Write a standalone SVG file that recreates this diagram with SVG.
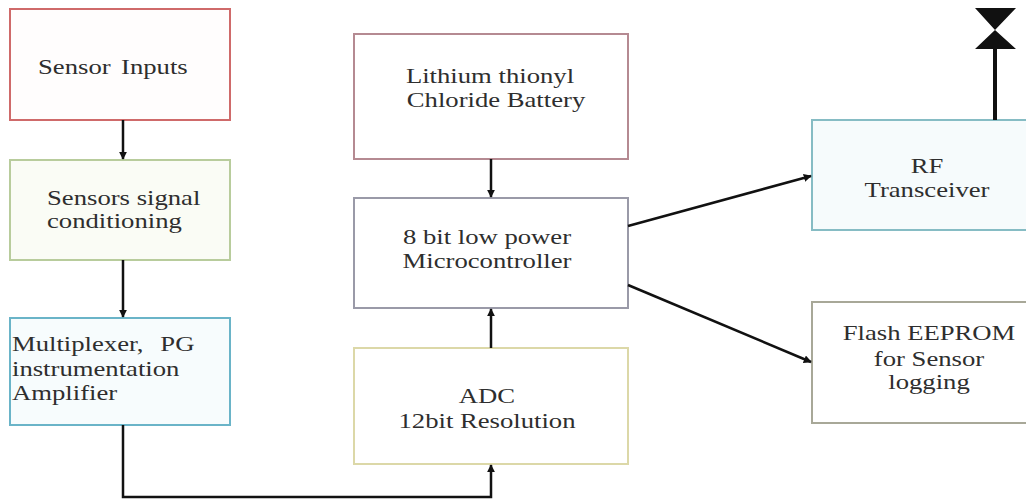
<svg xmlns="http://www.w3.org/2000/svg" width="1026" height="504" viewBox="0 0 1026 504">
<defs>
<style>
.box{stroke-width:2}
text{font-family:'Liberation Serif','Times New Roman',serif;font-size:21px;fill:#2e2e2e}
.m{text-anchor:middle}
.conn{fill:none;stroke:#111;stroke-width:2.5}
</style>
<marker id="ah" viewBox="0 0 10 10" refX="9" refY="5" markerWidth="3.2" markerHeight="3.2" orient="auto" markerUnits="strokeWidth">
<path d="M0,0 L10,5 L0,10 z" fill="#111"/>
</marker>
</defs>
<rect width="1026" height="504" fill="#fff"/>

<g id="sensor-inputs">
<rect class="box" x="10" y="9" width="220" height="111" fill="#fffdfd" stroke="#cf6a6a"/>
<text transform="translate(38,74) scale(1.27,1)" word-spacing="3">Sensor Inputs</text>
</g>
<g id="signal-conditioning">
<rect class="box" x="10" y="160" width="220" height="100" fill="#fafcf5" stroke="#b8cc9c"/>
<text transform="translate(47,205) scale(1.27,1)">Sensors signal</text>
<text transform="translate(47,228) scale(1.27,1)">conditioning</text>
</g>
<g id="multiplexer">
<rect class="box" x="10" y="318" width="220" height="107" fill="#f7fcfd" stroke="#6ab4c8"/>
<text transform="translate(12,351) scale(1.27,1)" word-spacing="8">Multiplexer, PG</text>
<text transform="translate(12,376) scale(1.27,1)">instrumentation</text>
<text transform="translate(12,400) scale(1.27,1)">Amplifier</text>
</g>
<g id="battery">
<rect class="box" x="354" y="34" width="274" height="125" fill="#fff" stroke="#b58a92"/>
<text class="m" transform="translate(490,83) scale(1.27,1)">Lithium thionyl</text>
<text class="m" transform="translate(496,107) scale(1.27,1)">Chloride Battery</text>
</g>
<g id="microcontroller">
<rect class="box" x="354" y="198" width="274" height="110" fill="#fff" stroke="#9a9aa8"/>
<text class="m" transform="translate(487,244) scale(1.27,1)">8 bit low power</text>
<text class="m" transform="translate(487,268) scale(1.27,1)">Microcontroller</text>
</g>
<g id="adc">
<rect class="box" x="354" y="348" width="274" height="116" fill="#fff" stroke="#dcd8a8"/>
<text class="m" transform="translate(487,403) scale(1.27,1)">ADC</text>
<text class="m" transform="translate(487,428) scale(1.27,1)">12bit Resolution</text>
</g>
<g id="rf-transceiver">
<rect class="box" x="812" y="120" width="220" height="110" fill="#f6fbfc" stroke="#86bcc4"/>
<text class="m" transform="translate(927,173) scale(1.27,1)">RF</text>
<text class="m" transform="translate(927,197) scale(1.27,1)">Transceiver</text>
</g>
<g id="antenna">
<line x1="995" y1="120" x2="995" y2="40" stroke="#111" stroke-width="4"/>
<path d="M975,8 L1016,8 L995,30 z M995,30 L1016,49 L975,49 z" fill="#111"/>
</g>
<g id="flash-eeprom">
<rect class="box" x="812" y="302" width="220" height="121" fill="#fff" stroke="#a8a898"/>
<text class="m" transform="translate(929,340) scale(1.27,1)">Flash EEPROM</text>
<text class="m" transform="translate(929,366) scale(1.27,1)">for Sensor</text>
<text class="m" transform="translate(929,389) scale(1.27,1)">logging</text>
</g>

<g id="connectors">
<line class="conn" x1="123" y1="120" x2="123" y2="159" marker-end="url(#ah)"/>
<line class="conn" x1="123" y1="260" x2="123" y2="317" marker-end="url(#ah)"/>
<polyline class="conn" points="123,425 123,497 491,497 491,465" marker-end="url(#ah)"/>
<line class="conn" x1="491" y1="348" x2="491" y2="309" marker-end="url(#ah)"/>
<line class="conn" x1="491" y1="159" x2="491" y2="197" marker-end="url(#ah)"/>
<line class="conn" x1="628" y1="226" x2="811" y2="176" marker-end="url(#ah)"/>
<line class="conn" x1="628" y1="285" x2="811" y2="362" marker-end="url(#ah)"/>
</g>
</svg>
